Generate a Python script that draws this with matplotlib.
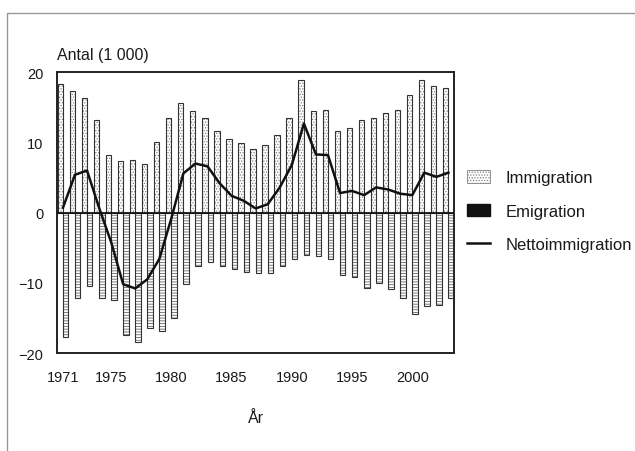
import matplotlib
matplotlib.use("Agg")
from matplotlib import pyplot as plt
from matplotlib.patches import Patch, Rectangle
from matplotlib.lines import Line2D

plt.rcParams['font.family'] = ['Liberation Sans', 'DejaVu Sans']
plt.rcParams['hatch.linewidth'] = 0.6

years = list(range(1971, 2004))
immigration = [18.3, 17.4, 16.3, 13.2, 8.2, 7.3, 7.5, 7.0, 10.0, 13.5,
               15.6, 14.5, 13.5, 11.6, 10.5, 9.9, 9.1, 9.7, 11.1, 13.5,
               18.9, 14.5, 14.7, 11.6, 12.1, 13.2, 13.5, 14.2, 14.7, 16.8,
               18.9, 18.0, 17.8]
emigration = [17.7, 12.1, 10.5, 12.2, 12.4, 17.5, 18.4, 16.5, 16.9, 15.0,
              10.2, 7.6, 7.0, 7.6, 8.0, 8.4, 8.6, 8.6, 7.6, 6.6,
              6.0, 6.2, 6.6, 8.9, 9.1, 10.8, 10.0, 10.9, 12.1, 14.4,
              13.3, 13.1, 12.2]
netto = [0.7, 5.4, 6.0, 0.7, -4.2, -10.2, -10.8, -9.5, -6.6, -0.8,
         5.6, 7.0, 6.6, 4.2, 2.4, 1.7, 0.6, 1.2, 3.6, 6.8,
         12.7, 8.3, 8.2, 2.8, 3.1, 2.5, 3.6, 3.3, 2.7, 2.5,
         5.7, 5.1, 5.7]
xticks = [1971, 1975, 1980, 1985, 1990, 1995, 2000]
yticks = [-20, -10, 0, 10, 20]

txt = '#1a1a1a'
w = 0.45

fig = plt.figure(figsize=(6.35, 4.52), dpi=100)
# outer frame (only top and left edges show)
fig.patches.append(Rectangle((7 / 635, -0.1), 1.2, 1.1 - 14 / 452,
                             transform=fig.transFigure, fill=False,
                             edgecolor='#999999', lw=1.0))

ax = fig.add_axes([0.0902, 0.2168, 0.6255, 0.621])

x_imm = [y - w / 2 for y in years]
x_emi = [y + w / 2 for y in years]
neg_emi = [-v for v in emigration]

ax.bar(x_imm, immigration, width=w, color='white', hatch='......',
       edgecolor='#808080', lw=0, zorder=2)
ax.bar(x_imm, immigration, width=w, fill=False, edgecolor='#333333',
       lw=0.8, zorder=3)
ax.bar(x_emi, neg_emi, width=w, color='white', hatch='------',
       edgecolor='#666666', lw=0, zorder=2)
ax.bar(x_emi, neg_emi, width=w, fill=False, edgecolor='#333333',
       lw=0.8, zorder=3)

ax.axhline(0, color='#111111', lw=1.3, zorder=4)
ax.plot(years, netto, color='#111111', lw=1.8, zorder=5)

ax.set_xlim(1970.53, 2003.5)
ax.set_ylim(-20, 20)
ax.set_xticks(xticks)
ax.set_yticks(yticks)
ax.tick_params(length=0, labelsize=10.5, colors=txt, pad=10)
ax.tick_params(axis='x', pad=12)
for s in ax.spines.values():
    s.set_linewidth(1.4)
    s.set_color('#222222')

ax.text(0, 1.035, 'Antal (1 000)', transform=ax.transAxes, ha='left',
        va='bottom', fontsize=11.5, color=txt)
ax.set_xlabel('År', fontsize=11.5, color=txt, labelpad=19)

handles = [
    Patch(facecolor='white', hatch='......', edgecolor='#808080', lw=0.6),
    Patch(facecolor='#111111', edgecolor='#111111'),
    Line2D([0], [0], color='#111111', lw=1.8),
]
labels = ['Immigration', 'Emigration', 'Nettoimmigration']
fig.legend(handles, labels, loc='upper left',
           bbox_to_anchor=(452 / 635, 1 - 156 / 452), frameon=False,
           fontsize=12, labelcolor=txt, handlelength=1.4,
           handleheight=0.8, handletextpad=0.9, labelspacing=1.1)

fig.savefig('out.png', dpi=100)
